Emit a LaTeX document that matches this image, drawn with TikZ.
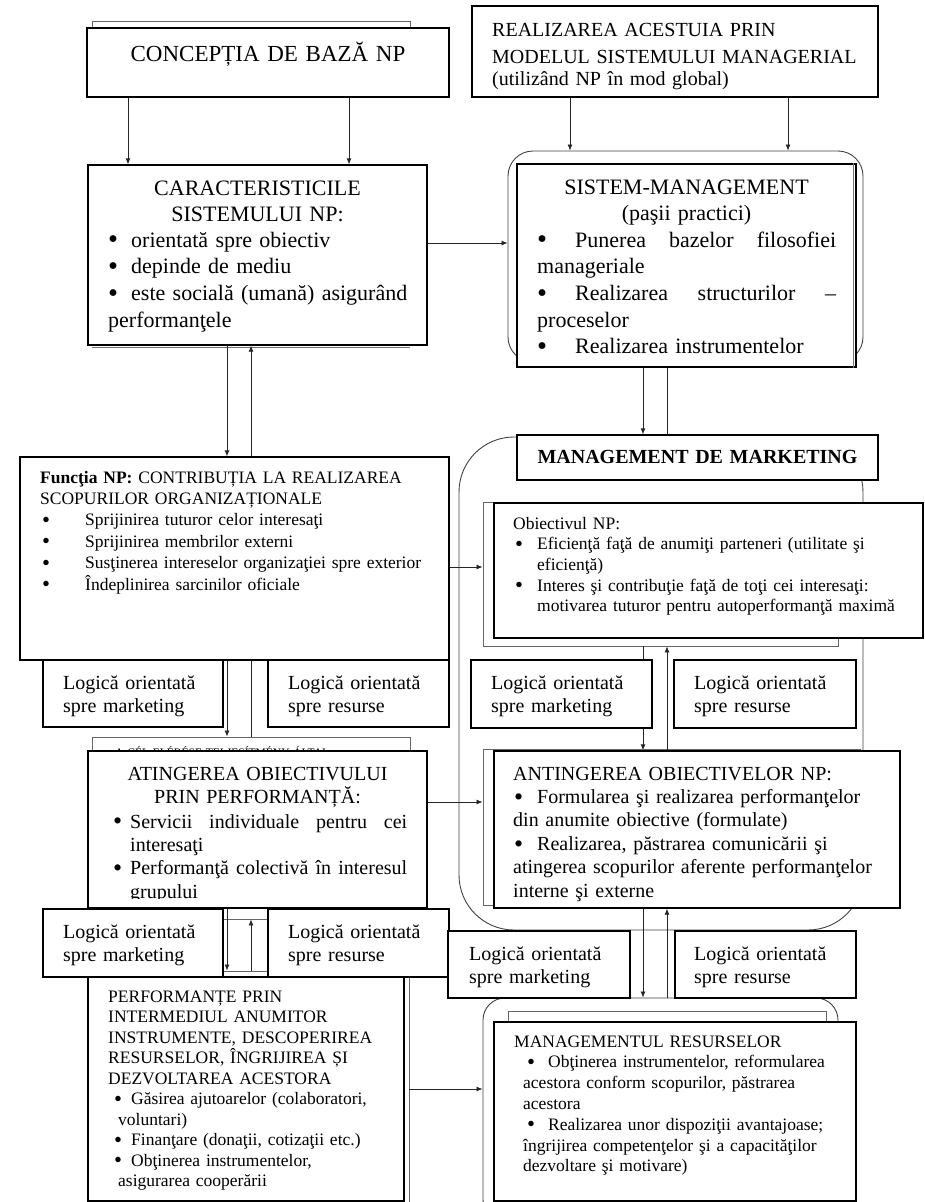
\documentclass[tikz,border=0pt]{standalone}
\usepackage{fontspec}
\usepackage{graphicx}
\setmainfont{Liberation Serif}
\usetikzlibrary{arrows.meta,fit}
\newcommand\fsz[2]{\fontsize{#1}{#2}\selectfont}
\newcommand\bul[2]{\makebox[#2][l]{\hspace{#1}\raisebox{-0.09em}{\scalebox{1.3}{•}}}}
\newcommand\js{\hspace{\fill}}
\begin{document}
\begin{tikzpicture}[x=1pt,y=-1pt,
  box/.style={draw=black, line width=1.3pt, fill=white, inner sep=0pt},
  frame/.style={draw=black!60, line width=0.9pt, fill=white, inner sep=0pt},
  region/.style={draw=black!75, line width=0.9pt, inner sep=0pt},
  shadowline/.style={draw=black!55, line width=0.8pt},
  conn/.style={draw=black!85, line width=0.8pt},
  arr/.style={conn, -{Latex[length=6pt,width=5pt]}},
  txt/.style={inner sep=0pt, anchor=base west, align=left, text width=430pt}]
\useasboundingbox (0,0) rectangle (925,1202);

% columns and rows for connectors
\coordinate (cA) at (128,0);
\coordinate (cB) at (349,0);
\coordinate (cC) at (570,0);
\coordinate (cD) at (788,0);
\coordinate (cL1) at (227,0);
\coordinate (cL2) at (251,0);
\coordinate (cR1) at (643,0);
\coordinate (cR2) at (667,0);
\coordinate (rCS) at (0,243);
\coordinate (rFO) at (0,567);
\coordinate (rAA) at (0,802);
\coordinate (rPM) at (0,1089);

% ---------- top row
\node[frame, fit={(92,21) (410,40)}] (concfr) {};
\node[box, fit={(87,28) (449,97)}] (conc) {};
\node[txt, anchor=base, text width=360pt, align=center, font=\fsz{23}{27}] (tconc) at (268,61) {CONCEPȚIA DE BAZĂ NP};

\node[box, fit={(472,6) (878,97)}] (real) {};
\node[txt, text width=390pt, font=\fsz{20}{22}] (treal) at (492,36) {REALIZAREA ACESTUIA PRIN\\[5pt]MODELUL SISTEMULUI MANAGERIAL\\(utilizând NP în mod global)};

% ---------- characteristics
\node[box, fit={(88,165) (427,345)}] (carac) {};
\draw[shadowline] (92,347.5) -- (410,347.5);
\node[txt, anchor=base, text width=320pt, align=center, font=\fsz{22}{26.8}] (tcarac) at (257.5,195) {CARACTERISTICILE\\SISTEMULUI NP:};
\node[txt, text width=320pt, font=\fsz{22}{26.8}] (tcaracb) at (108,247) {\bul{0pt}{23pt}orientată spre obiectiv\\\bul{0pt}{23pt}depinde de mediu\\\bul{0pt}{23pt}este socială (umană) asigurând\\performanţele};

% ---------- system management
\node[region, rounded corners=25pt, fit={(508,151) (863,362)}] (sisout) {};
\node[box, fit={(517,164) (856,367)}] (sis) {};
\draw[shadowline] ([xshift=-3pt]sis.north east) -- ([xshift=-3pt]sis.south east);
\node[txt, anchor=base, text width=320pt, align=center, font=\fsz{22}{26}] (tsis) at (686.5,194) {SISTEM-MANAGEMENT\\(paşii practici)};
\node[txt, text width=310pt, font=\fsz{22}{26.7}] (tsisb) at (537,247) {\makebox[299pt][l]{\bul{0pt}{38pt}Punerea\js bazelor\js filosofiei}\\manageriale\\\makebox[299pt][l]{\bul{0pt}{38pt}Realizarea\js structurilor\js –}\\proceselor\\\bul{0pt}{38pt}Realizarea instrumentelor};

% ---------- marketing management region
\node[region, rounded corners=55pt, fit={(459,437) (863,930)}] (mkreg) {};
\node[box, fit={(517,435) (878,480)}] (mdm) {};
\node[txt, anchor=base, text width=360pt, align=center, font=\fsz{20}{24}\bfseries] (tmdm) at (697.5,463) {MANAGEMENT DE MARKETING};

% ---------- function
\node[box, fit={(20,457) (449,660)}] (func) {};
\node[txt, text width=425pt, font=\fsz{17.5}{21.4}] (tfunc) at (40,483) {\textbf{Funcţia NP:} CONTRIBUȚIA LA REALIZAREA\\SCOPURILOR ORGANIZAȚIONALE\\\bul{2pt}{45pt}Sprijinirea tuturor celor interesaţi\\\bul{2pt}{45pt}Sprijinirea membrilor externi\\\bul{2pt}{45pt}Susţinerea intereselor organizaţiei spre exterior\\\bul{2pt}{45pt}Îndeplinirea sarcinilor oficiale};

% ---------- objective
\node[frame, fit={(483,502) (838,646)}] (objfr) {};
\node[box, fit={(494,503) (923,638)}] (obj) {};
\node[txt, text width=410pt, font=\fsz{17.5}{20.7}] (tobj) at (513,529) {Obiectivul NP:\\\bul{2pt}{24pt}Eficienţă faţă de anumiţi parteneri (utilitate şi\\\hspace*{24pt}eficienţă)\\\bul{2pt}{24pt}Interes şi contribuţie faţă de toţi cei interesaţi:\\\hspace*{24pt}motivarea tuturor pentru autoperformanţă maximă};

% ---------- attaining by performance
\node[frame, fit={(92,737) (410,919)}] (atfr) {};
\node[txt, text width=300pt, font=\fsz{11.5}{13}] (thu) at (115,756) {A CÉL ELÉRÉSE TELJESÍTMÉNY ÁLTAL:};
\node[box, fit={(88,751) (427,908)}] (ating) {};
\node[txt, anchor=base, text width=330pt, align=center, font=\fsz{20}{23.4}] (tating) at (257.5,780) {ATINGEREA OBIECTIVULUI\\PRIN PERFORMANȚĂ:};
\begin{scope}
\clip (88,751) rectangle (427,898);
\node[txt, text width=300pt, font=\fsz{20}{23.4}] (tatingb) at (113,828) {\makebox[294pt][l]{\bul{0pt}{17pt}Servicii\js individuale\js pentru\js cei}\\\hspace*{17pt}interesaţi\\\makebox[294pt][l]{\bul{0pt}{17pt}Performanţă\js colectivă\js în\js interesul}\\\hspace*{17pt}grupului};
\end{scope}

% ---------- attaining objectives
\node[frame, fit={(483,749) (860,905)}] (antfr) {};
\node[box, fit={(494,751) (900,908)}] (anting) {};
\node[txt, text width=390pt, font=\fsz{20}{23.4}] (tanting) at (513,780) {ANTINGEREA OBIECTIVELOR NP:\\\bul{1pt}{24pt}Formularea şi realizarea performanţelor\\din anumite obiective (formulate)\\\bul{1pt}{24pt}Realizarea, păstrarea comunicării şi\\atingerea scopurilor aferente performanţelor\\interne şi externe};

% ---------- performances
\node[frame, fit={(92,971) (409,1215)}] (perffr) {};
\node[box, fit={(88,977) (404,1201)}] (perf) {};
\node[txt, text width=300pt, font=\fsz{17.5}{20.5}] (tperf) at (108,1002) {PERFORMANȚE PRIN\\INTERMEDIUL ANUMITOR\\INSTRUMENTE, DESCOPERIREA\\RESURSELOR, ÎNGRIJIREA ȘI\\DEZVOLTAREA ACESTORA\\\hspace*{6pt}\bul{0pt}{17pt}Găsirea ajutoarelor (colaboratori,\\\hspace*{10pt}voluntari)\\\hspace*{6pt}\bul{0pt}{17pt}Finanţare (donaţii, cotizaţii etc.)\\\hspace*{6pt}\bul{0pt}{17pt}Obţinerea instrumentelor,\\\hspace*{10pt}asigurarea cooperării};

% ---------- resources management
\node[region, rounded corners=22pt, fit={(483,998) (838,1222)}] (mrout) {};
\node[frame, fit={(508,1011) (826,1100)}] (mrfr) {};
\node[box, fit={(494,1022) (856,1201)}] (mr) {};
\node[txt, text width=350pt, font=\fsz{17.5}{20.8}] (tmr) at (514,1047) {MANAGEMENTUL RESURSELOR\\\hspace*{13pt}\bul{0pt}{21pt}Obţinerea instrumentelor, reformularea\\\hspace*{9pt}acestora conform scopurilor, păstrarea\\\hspace*{9pt}acestora\\\hspace*{13pt}\bul{0pt}{21pt}Realizarea unor dispoziţii avantajoase;\\\hspace*{9pt}îngrijirea competenţelor şi a capacităţilor\\\hspace*{9pt}dezvoltare şi motivare)};

% ---------- connectors
\draw[arr] (conc.south -| cA) -- (carac.north -| cA);
\draw[arr] (conc.south -| cB) -- (carac.north -| cB);
\draw[arr] (real.south -| cC) -- (sisout.north -| cC);
\draw[arr] (real.south -| cD) -- (sisout.north -| cD);
\draw[arr] (carac.east |- rCS) -- (sisout.west |- rCS);
\draw[arr] (carac.south -| cL1) -- (func.north -| cL1);
\draw[arr] (func.north -| cL2) -- (carac.south -| cL2);
\draw[arr] (sis.south -| cR1) -- (mdm.north -| cR1);
\draw[conn] (sis.south -| cR2) -- (mdm.north -| cR2);
\draw[arr] (func.east |- rFO) -- (objfr.west |- rFO);
\draw[arr] (func.south -| cL1) -- (atfr.north -| cL1);
\draw[conn] (atfr.north -| cL2) -- (func.south -| cL2);
\draw[arr] (objfr.south -| cR1) -- (anting.north -| cR1);
\draw[arr] (anting.north -| cR2) -- (objfr.south -| cR2);
\draw[arr] (ating.east |- rAA) -- (antfr.west |- rAA);
\draw[arr] (ating.south -| cL1) -- (perffr.north -| cL1);
\draw[arr] (perffr.north -| cL2) -- (atfr.south -| cL2);
\draw[arr] (anting.south -| cR1) -- (mrout.north -| cR1);
\draw[arr] (mrout.north -| cR2) -- (anting.south -| cR2);
\draw[arr] (perffr.east |- rPM) -- (mrout.west |- rPM);

% ---------- logic boxes
\node[box, fit={(43,660) (223,727)}] (lgLam) {};
\node[box, fit={(268,660) (449,727)}] (lgLar) {};
\node[box, fit={(471,660) (652,728)}] (lgRam) {};
\node[box, fit={(674,660) (856,728)}] (lgRar) {};
\node[box, fit={(43,909) (223,977)}] (lgLbm) {};
\node[box, fit={(268,909) (449,977)}] (lgLbr) {};
\node[box, fit={(448,931) (630,998)}] (lgRbm) {};
\node[box, fit={(675,931) (856,998)}] (lgRbr) {};
\node[txt, text width=170pt, font=\fsz{20}{23}] (tLam) at (63,689) {Logică orientată\\spre marketing};
\node[txt, text width=170pt, font=\fsz{20}{23}] (tLar) at (288,689) {Logică orientată\\spre resurse};
\node[txt, text width=170pt, font=\fsz{20}{23}] (tRam) at (491,689) {Logică orientată\\spre marketing};
\node[txt, text width=170pt, font=\fsz{20}{23}] (tRar) at (694,689) {Logică orientată\\spre resurse};
\node[txt, text width=170pt, font=\fsz{20}{23}] (tLbm) at (63,938) {Logică orientată\\spre marketing};
\node[txt, text width=170pt, font=\fsz{20}{23}] (tLbr) at (288,938) {Logică orientată\\spre resurse};
\node[txt, text width=170pt, font=\fsz{20}{23}] (tRbm) at (469,960) {Logică orientată\\spre marketing};
\node[txt, text width=170pt, font=\fsz{20}{23}] (tRbr) at (694,960) {Logică orientată\\spre resurse};
\end{tikzpicture}
\end{document}
